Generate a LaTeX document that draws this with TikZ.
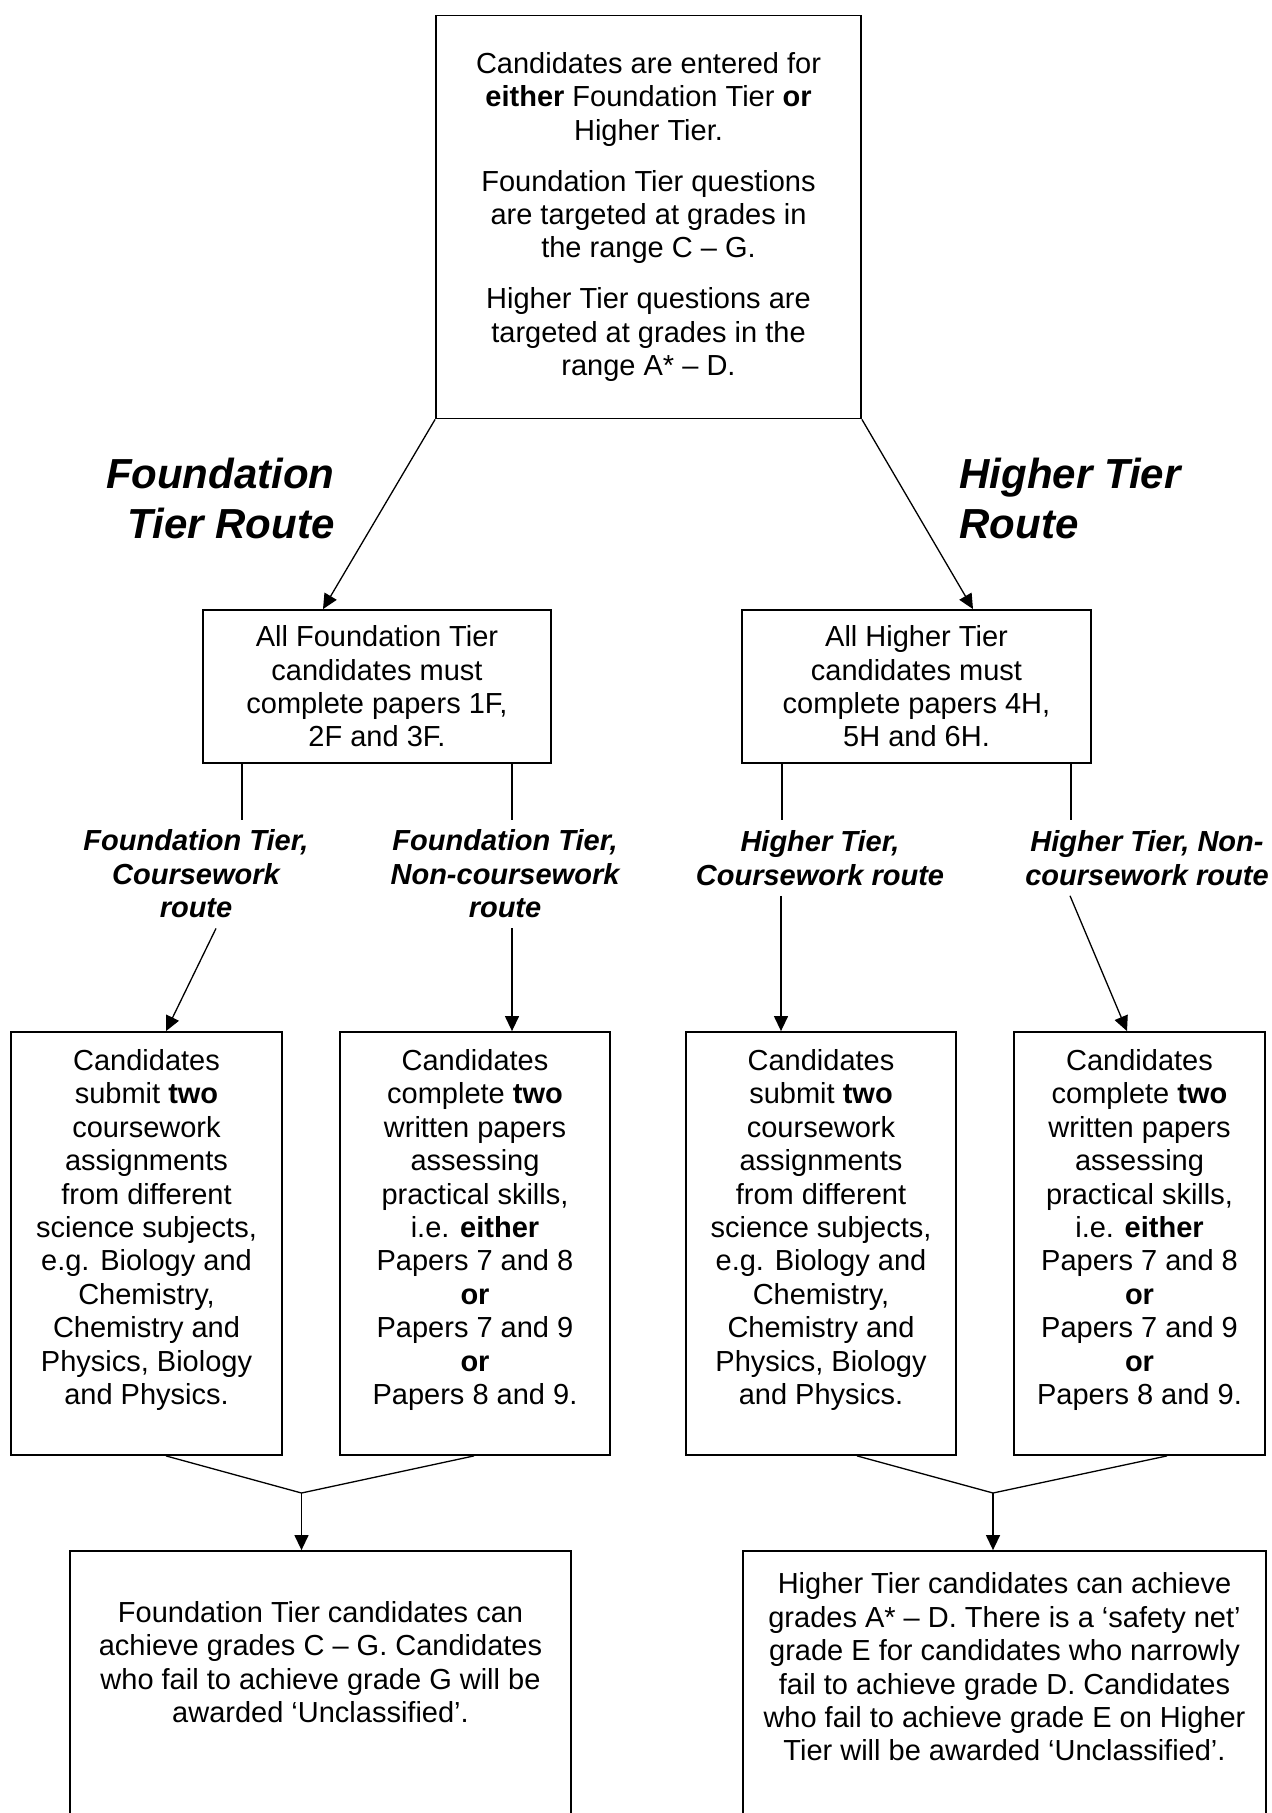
\documentclass[tikz,border=0pt]{standalone}
\usepackage{fontspec}
\setmainfont{Liberation Sans}
\usetikzlibrary{arrows.meta}
\newcommand{\bodysize}{\fontsize{14.5pt}{16.7pt}\selectfont}
\newcommand{\tiersize}{\fontsize{21pt}{25pt}\selectfont}

\begin{document}
\begin{tikzpicture}[
    box/.style={draw, line width=0.9pt, inner sep=0pt, align=center, font=\bodysize},
    txt/.style={inner sep=0pt, align=center, font=\bodysize},
    route/.style={inner sep=5pt, align=center, font=\bodysize\bfseries\itshape},
    tier/.style={inner sep=0pt, font=\tiersize\bfseries\itshape},
    link/.style={line width=0.65pt},
    flow/.style={line width=0.65pt, -{Triangle[length=7.5pt, width=7pt]}}
]
    \begin{scope}[x=0.5pt, y=-0.5pt]
        \useasboundingbox (0, 0) rectangle (1272, 1813);
        \clip (0, 0) rectangle (1272, 1813);
        % Entry
        \draw (648.5, 217) node[box, minimum width=212.5pt, minimum height=201.5pt] (TopBox) {
            Candidates are entered for\\ \textbf{either} Foundation Tier \textbf{or}\\ Higher Tier.\\[8.8pt]
            Foundation Tier questions\\ are targeted at grades in\\ the range C -- G.\\[8.8pt]
            Higher Tier questions are\\ targeted at grades in the\\ range A* -- D.};
        \draw (335, 498) node[tier, anchor=east, align=right] (FoundRoute) {Foundation\\Tier Route};
        \draw (959, 498) node[tier, anchor=west, align=left] (HighRoute) {Higher Tier\\Route};
        \draw (377, 686.5) node[box, minimum width=174pt, minimum height=76.5pt] (FoundBox)
            {All Foundation Tier\\candidates must\\complete papers 1F,\\2F and 3F.};
        \draw (916.5, 686.5) node[box, minimum width=174.5pt, minimum height=76.5pt] (HighBox)
            {All Higher Tier\\candidates must\\complete papers 4H,\\5H and 6H.};
        \draw[flow] (TopBox.south west) -- ([xshift=-27pt]FoundBox.north);
        \draw[flow] (TopBox.south east) -- ([xshift=28.25pt]HighBox.north);
        % Routes
        \draw (196, 874) node[route] (FCWLabel) {Foundation Tier,\\Coursework\\route};
        \draw (505, 874) node[route] (FNCLabel) {Foundation Tier,\\Non-coursework\\route};
        \draw (820, 858) node[route] (HCWLabel) {Higher Tier,\\Coursework route};
        \draw (1147, 858) node[route] (HNCLabel) {Higher Tier, Non-\\coursework route};
        \coordinate (FCWStem) at ([xshift=-67.5pt]FoundBox.south);
        \coordinate (FNCStem) at ([xshift=67.5pt]FoundBox.south);
        \coordinate (HCWStem) at ([xshift=-67.25pt]HighBox.south);
        \coordinate (HNCStem) at ([xshift=77.25pt]HighBox.south);
        \draw[link] (FCWStem) -- (FCWStem |- FCWLabel.north);
        \draw[link] (FNCStem) -- (FNCStem |- FNCLabel.north);
        \draw[link] (HCWStem) -- (HCWStem |- HCWLabel.north);
        \draw[link] (HNCStem) -- (HNCStem |- HNCLabel.north);
        % Components
        \draw (146.5, 1243.5) node[box, minimum width=135.5pt, minimum height=211.5pt] (FCWBox) {};
        \draw (475, 1243.5) node[box, minimum width=135pt, minimum height=211.5pt] (FNCBox) {};
        \draw (821, 1243.5) node[box, minimum width=135pt, minimum height=211.5pt] (HCWBox) {};
        \draw (1139.5, 1243.5) node[box, minimum width=125.5pt, minimum height=211.5pt] (HNCBox) {};
        \draw ([yshift=6.75pt]FCWBox.center) node[txt] (FCWText)
            {Candidates\\submit \textbf{two}\\coursework\\assignments\\from different\\science subjects,\\e.g. Biology and\\Chemistry,\\Chemistry and\\Physics, Biology\\and Physics.};
        \draw ([yshift=6.75pt]FNCBox.center) node[txt] (FNCText)
            {Candidates\\complete \textbf{two}\\written papers\\assessing\\practical skills,\\i.e. \textbf{either}\\Papers 7 and 8\\\textbf{or}\\Papers 7 and 9\\\textbf{or}\\Papers 8 and 9.};
        \draw ([yshift=6.75pt]HCWBox.center) node[txt] (HCWText)
            {Candidates\\submit \textbf{two}\\coursework\\assignments\\from different\\science subjects,\\e.g. Biology and\\Chemistry,\\Chemistry and\\Physics, Biology\\and Physics.};
        \draw ([yshift=6.75pt]HNCBox.center) node[txt] (HNCText)
            {Candidates\\complete \textbf{two}\\written papers\\assessing\\practical skills,\\i.e. \textbf{either}\\Papers 7 and 8\\\textbf{or}\\Papers 7 and 9\\\textbf{or}\\Papers 8 and 9.};
        \draw[flow] ([xshift=10pt]FCWLabel.south) -- ([xshift=9.75pt]FCWBox.north);
        \draw[flow] ([xshift=3.5pt]FNCLabel.south) -- ([xshift=18.5pt]FNCBox.north);
        \draw[flow] ([xshift=-19.5pt]HCWLabel.south) -- ([xshift=-20pt]HCWBox.north);
        \draw[flow] ([xshift=-38.5pt]HNCLabel.south) -- ([xshift=-6.25pt]HNCBox.north);
        % Results
        \draw (320.5, 1688) node[box, minimum width=250.5pt, minimum height=137pt] (FoundResult) {};
        \draw (1004.5, 1688) node[box, minimum width=261.5pt, minimum height=137pt] (HighResult) {};
        \draw (320.5, 1662) node[txt] (FoundResultText)
            {Foundation Tier candidates can\\achieve grades C -- G. Candidates\\who fail to achieve grade G will be\\awarded `Unclassified'.};
        \draw (1004.5, 1667) node[txt] (HighResultText)
            {Higher Tier candidates can achieve\\grades A* -- D. There is a `safety net'\\grade E for candidates who narrowly\\fail to achieve grade D. Candidates\\who fail to achieve grade E on Higher\\Tier will be awarded `Unclassified'.};
        \coordinate (FoundJoin) at (301.5, 1493);
        \coordinate (HighJoin) at (993, 1493);
        \draw[link] ([xshift=9.75pt]FCWBox.south) -- (FoundJoin) -- ([xshift=-0.5pt]FNCBox.south);
        \draw[link] ([xshift=18pt]HCWBox.south) -- (HighJoin) -- ([xshift=13.75pt]HNCBox.south);
        \draw[flow] (FoundJoin) -- (FoundJoin |- FoundResult.north);
        \draw[flow] (HighJoin) -- (HighJoin |- HighResult.north);
    \end{scope}
\end{tikzpicture}
\end{document}
